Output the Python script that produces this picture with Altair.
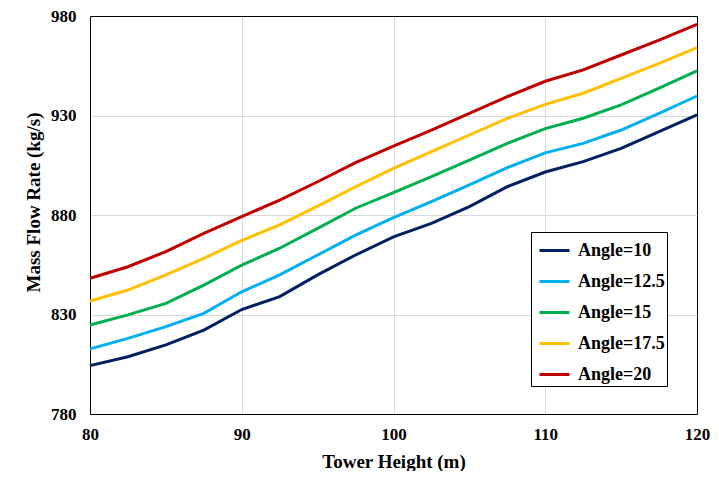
import altair as alt
import pandas as pd

heights = [80, 82.5, 85, 87.5, 90, 92.5, 95, 97.5, 100, 102.5, 105, 107.5, 110, 112.5, 115, 117.5, 120]
series_names = ["Angle=10", "Angle=12.5", "Angle=15", "Angle=17.5", "Angle=20"]
angle_10 = [804.3, 808.8, 814.7, 822.2, 832.5, 839.0, 849.9, 859.9, 869.0, 875.8, 884.2, 894.2, 901.6, 906.8, 913.5, 921.9, 930.3]
angle_12_5 = [812.7, 818.0, 823.9, 830.6, 841.4, 849.9, 859.9, 869.9, 878.7, 886.7, 895.1, 903.8, 911.2, 916.0, 922.7, 931.1, 939.8]
angle_15 = [824.7, 829.8, 835.6, 844.8, 854.8, 863.3, 873.3, 883.4, 891.3, 899.3, 907.6, 916.0, 923.4, 928.6, 935.3, 943.7, 952.4]
angle_17_5 = [836.8, 842.3, 849.9, 858.2, 867.2, 875.0, 884.5, 894.2, 903.4, 911.8, 920.2, 928.6, 935.6, 941.2, 948.7, 956.2, 964.1]
angle_20 = [848.2, 854.0, 861.6, 870.8, 879.2, 887.5, 896.7, 906.3, 914.6, 922.7, 931.1, 939.5, 947.2, 952.9, 960.4, 967.9, 975.8]
colors = ["#002060", "#00b0f0", "#00b050", "#ffc000", "#c00000"]
x_ticks = [80, 90, 100, 110, 120]
y_ticks = [780, 830, 880, 930, 980]

all_series = [angle_10, angle_12_5, angle_15, angle_17_5, angle_20]
rows = []
for name, vals in zip(series_names, all_series):
    for h, v in zip(heights, vals):
        rows.append({"height": h, "flow": v, "series": name})
df = pd.DataFrame(rows)

FONT = "Liberation Serif"

chart = alt.Chart(df).mark_line(strokeWidth=3).encode(
    x=alt.X("height:Q",
            scale=alt.Scale(domain=[80, 120], nice=False, zero=False),
            axis=alt.Axis(values=x_ticks, format="d", title="Tower Height (m)",
                          ticks=False, tickSize=0, labelPadding=25,
                          labelBaseline="alphabetic",
                          labelFont=FONT, labelFontSize=17, labelFontWeight="bold",
                          labelColor="#000000",
                          titleFont=FONT, titleFontSize=19, titleFontWeight="bold",
                          titleColor="#000000", titleY=53, titleBaseline="alphabetic",
                          domainColor="#000000", domainWidth=1,
                          gridColor={"condition": {"test": "datum.value === 120", "value": "#000000"}, "value": "#d9d9d9"},
                          gridWidth=1, labelFlush=False)),
    y=alt.Y("flow:Q",
            scale=alt.Scale(domain=[780, 980], nice=False, zero=False),
            axis=alt.Axis(values=y_ticks, format="d", title="Mass Flow Rate (kg/s)",
                          ticks=False, tickSize=0, labelPadding=14,
                          labelFont=FONT, labelFontSize=17, labelFontWeight="bold",
                          labelColor="#000000",
                          titleFont=FONT, titleFontSize=19, titleFontWeight="bold",
                          titleColor="#000000", titleX=-57, titleY=186,
                          titleAngle=270, titleBaseline="middle",
                          domainColor="#000000", domainWidth=1,
                          gridColor={"condition": {"test": "datum.value === 980", "value": "#000000"}, "value": "#d9d9d9"},
                          gridWidth=1, labelFlush=False)),
    color=alt.Color("series:N",
                    scale=alt.Scale(domain=series_names, range=colors),
                    legend=alt.Legend(title=None, orient="none", legendX=441, legendY=216,
                                      symbolType="stroke", symbolSize=900, symbolStrokeWidth=3,
                                      symbolOffset=5, labelOffset=7, rowPadding=5, padding=2,
                                      labelFont=FONT, labelFontSize=18, labelFontWeight="bold",
                                      labelColor="#000000",
                                      fillColor="#ffffff", strokeColor="#000000")),
    order=alt.Order("height:Q"),
).properties(
    width=607,
    height=398,
    autosize=alt.AutoSizeParams(type="none"),
    padding={"left": 82, "top": 8, "right": 14, "bottom": 57},
).configure_view(
    stroke="#000000", strokeWidth=1
).configure(background="#ffffff")

chart.save("out.html", embed_options={"renderer": "svg", "actions": False})
